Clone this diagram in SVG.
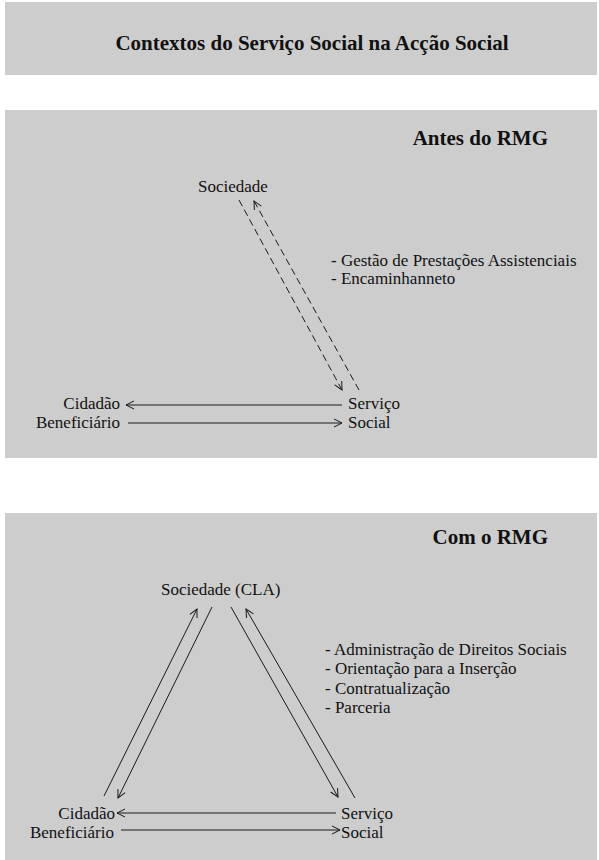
<svg xmlns="http://www.w3.org/2000/svg" width="599" height="860" viewBox="0 0 599 860">
<style>
.bg{fill:#cdcdcd}
.t{font-family:"Liberation Serif","Times New Roman",serif;font-size:17px;fill:#111}
.h{font-family:"Liberation Serif","Times New Roman",serif;font-size:21px;font-weight:bold;fill:#111}
.c{stroke:#1a1a1a;stroke-width:1;fill:none;marker-end:url(#ah)}
.d{stroke-dasharray:7,4}
</style>
<defs>
<marker id="ah" markerWidth="10" markerHeight="10" refX="9" refY="5" orient="auto" markerUnits="userSpaceOnUse">
<path d="M1,1 L9,5 L1,9" fill="none" stroke="#1a1a1a" stroke-width="1"/>
</marker>
</defs>
<rect width="599" height="860" fill="#ffffff"/>
<g id="panels">
<rect class="bg" x="5" y="2" width="592" height="73"/>
<rect class="bg" x="5" y="110" width="592" height="348"/>
<rect class="bg" x="5" y="513" width="592" height="347"/>
</g>
<g id="title"><text class="h" x="312" y="50" text-anchor="middle">Contextos do Serviço Social na Acção Social</text></g>
<g id="heading-antes"><text class="h" x="548" y="145" text-anchor="end">Antes do RMG</text></g>
<g id="heading-com"><text class="h" x="548" y="544" text-anchor="end">Com o RMG</text></g>
<g id="connectors">
<line class="c d" x1="239" y1="200" x2="342" y2="390"/>
<line class="c d" x1="359" y1="390" x2="254" y2="201"/>
<line class="c" x1="342" y1="405" x2="126" y2="405"/>
<line class="c" x1="128" y1="423" x2="342" y2="423"/>
<line class="c" x1="104" y1="796" x2="197" y2="609"/>
<line class="c" x1="212" y1="607" x2="118" y2="798"/>
<line class="c" x1="231" y1="607" x2="338" y2="797"/>
<line class="c" x1="355" y1="798" x2="246" y2="609"/>
<line class="c" x1="336" y1="813" x2="117" y2="813"/>
<line class="c" x1="121" y1="830" x2="340" y2="830"/>
</g>
<g id="sociedade-antes"><text class="t" x="198" y="192">Sociedade</text></g>
<g id="cidadao-antes"><text class="t" x="120" y="409" text-anchor="end">Cidadão</text><text class="t" x="120" y="428" text-anchor="end">Beneficiário</text></g>
<g id="servico-antes"><text class="t" x="348" y="409">Serviço</text><text class="t" x="348" y="428">Social</text></g>
<g id="notas-antes"><text class="t" x="331" y="266">- Gestão de Prestações Assistenciais</text><text class="t" x="331" y="284">- Encaminhanneto</text></g>
<g id="sociedade-com"><text class="t" x="161" y="595">Sociedade (CLA)</text></g>
<g id="cidadao-com"><text class="t" x="115" y="819" text-anchor="end">Cidadão</text><text class="t" x="114" y="838" text-anchor="end">Beneficiário</text></g>
<g id="servico-com"><text class="t" x="341" y="819">Serviço</text><text class="t" x="341" y="838">Social</text></g>
<g id="notas-com"><text class="t" x="325" y="655">- Administração de Direitos Sociais</text><text class="t" x="325" y="674">- Orientação para a Inserção</text><text class="t" x="325" y="694">- Contratualização</text><text class="t" x="325" y="713">- Parceria</text></g>
</svg>
